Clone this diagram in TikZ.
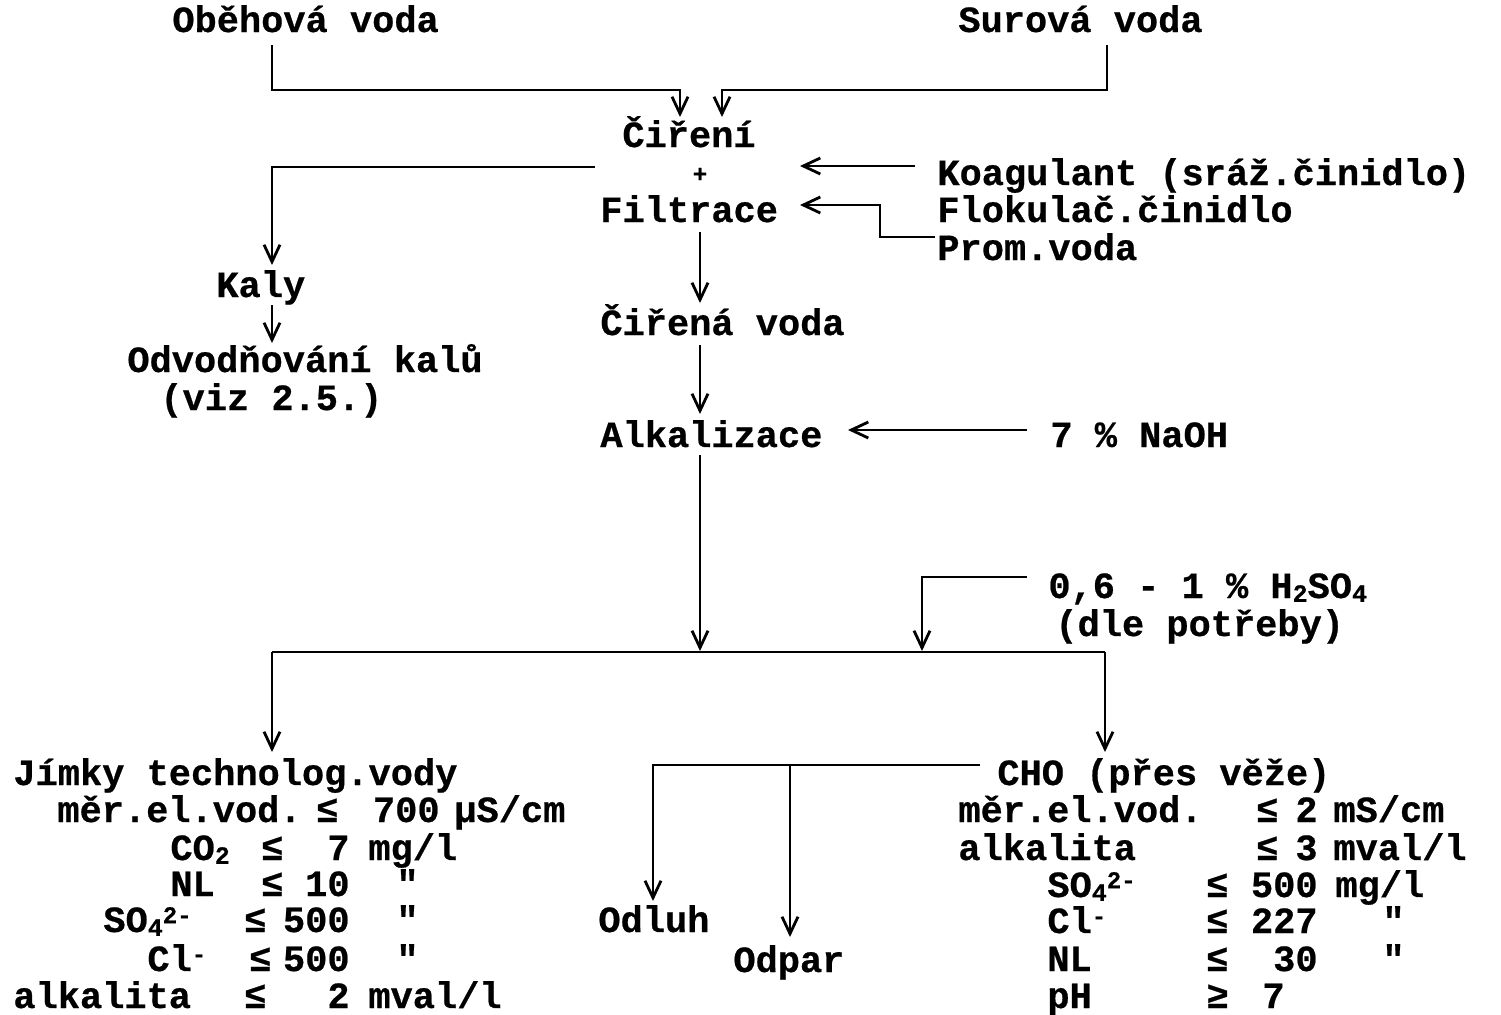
\documentclass[tikz,border=0pt]{standalone}
\usepackage{fontspec}
\setmonofont{Liberation Mono}[BoldFeatures={FakeBold=0.6}]
\usetikzlibrary{arrows.meta}
\newcommand{\dsub}[1]{\smash{\raisebox{-0.2ex}{\fontsize{12.5}{12.5}\selectfont #1}}}
\newcommand{\dsup}[1]{\smash{\raisebox{0.45ex}{\fontsize{12}{12}\selectfont #1}}}
\begin{document}
\begin{tikzpicture}[x=0.5pt,y=-0.5pt,
  txt/.style={inner sep=0pt, anchor=base west, font=\ttfamily\fontsize{18.5}{22}\selectfont\bfseries},
  txe/.style={txt, anchor=base east},
  plusmark/.style={inner sep=0pt, font=\ttfamily\fontsize{12}{12}\selectfont\bfseries},
  ln/.style={line width=1.4pt, line join=miter},
  arr/.style={ln, -{Straight Barb[length=8.5pt,width=8pt,line width=1.4pt]}}]
\useasboundingbox (0,0) rectangle (1501,1014);
% ---------- texts ----------
\node[txt] (obeh) at (172,32) {Oběhová voda};
\node[txt] (surova) at (958,32) {Surová voda};
\node[txt] (cireni) at (622,147) {Čiření};
\node[plusmark] (plus) at (700,175) {+};
\node[txt] (filtr) at (600,222) {Filtrace};
\node[txt] (koag) at (937,185) {Koagulant (sráž.činidlo)};
\node[txt] (flok) at (937,222) {Flokulač.činidlo};
\node[txt] (prom) at (937,260) {Prom.voda};
\node[txt] (kaly) at (216,297) {Kaly};
\node[txt] (odvod) at (127,372) {Odvodňování kalů};
\node[txt] (viz) at (160,410) {(viz 2.5.)};
\node[txt] (cirena) at (600,335) {Čiřená voda};
\node[txt] (alk) at (600,447) {Alkalizace};
\node[txt] (naoh) at (1050,447) {7 \% NaOH};
\node[txt] (h2so) at (1048,598) {0,6 - 1 \% H\dsub{2}SO\dsub{4}};
\node[txt] (dle) at (1055,636) {(dle potřeby)};
\node[txt] (odluh) at (598,932) {Odluh};
\node[txt] (odpar) at (733,972) {Odpar};
% left column
\node[txt] (jimky) at (13,785) {Jímky technolog.vody};
\node[txt] (l2a) at (57,822) {měr.el.vod.};
\node[txt] (l2b) at (316,822) {≤};
\node[txe] (l2c) at (440,822) {700};
\node[txt] (l2d) at (454,822) {µS/cm};
\node[txt] (l3a) at (170,860) {CO\dsub{2}};
\node[txt] (l3b) at (261,860) {≤};
\node[txe] (l3c) at (350,860) {7};
\node[txt] (l3d) at (368,860) {mg/l};
\node[txt] (l4a) at (170,896) {NL};
\node[txt] (l4b) at (261,896) {≤};
\node[txe] (l4c) at (350,896) {10};
\node[txt] (l4d) at (396,896) {"};
\node[txt] (l5a) at (103,932) {SO\dsub{4}\dsup{2-}};
\node[txt] (l5b) at (244,932) {≤};
\node[txe] (l5c) at (350,932) {500};
\node[txt] (l5d) at (396,932) {"};
\node[txt] (l6a) at (147,971) {Cl\dsup{-}};
\node[txt] (l6b) at (249,971) {≤};
\node[txe] (l6c) at (350,971) {500};
\node[txt] (l6d) at (396,971) {"};
\node[txt] (l7a) at (13,1008) {alkalita};
\node[txt] (l7b) at (244,1008) {≤};
\node[txe] (l7c) at (350,1008) {2};
\node[txt] (l7d) at (368,1008) {mval/l};
% right column
\node[txt] (cho) at (997,785) {CHO (přes věže)};
\node[txt] (r2a) at (958,822) {měr.el.vod.};
\node[txt] (r2b) at (1256,822) {≤};
\node[txe] (r2c) at (1318,822) {2};
\node[txt] (r2d) at (1333,822) {mS/cm};
\node[txt] (r3a) at (958,860) {alkalita};
\node[txt] (r3b) at (1256,860) {≤};
\node[txe] (r3c) at (1318,860) {3};
\node[txt] (r3d) at (1333,860) {mval/l};
\node[txt] (r4a) at (1047,897) {SO\dsub{4}\dsup{2-}};
\node[txt] (r4b) at (1206,897) {≤};
\node[txe] (r4c) at (1318,897) {500};
\node[txt] (r4d) at (1335,897) {mg/l};
\node[txt] (r5a) at (1047,933) {Cl\dsup{-}};
\node[txt] (r5b) at (1206,933) {≤};
\node[txe] (r5c) at (1318,933) {227};
\node[txt] (r5d) at (1382,933) {"};
\node[txt] (r6a) at (1047,971) {NL};
\node[txt] (r6b) at (1206,971) {≤};
\node[txe] (r6c) at (1318,971) {30};
\node[txt] (r6d) at (1382,971) {"};
\node[txt] (r7a) at (1047,1008) {pH};
\node[txt] (r7b) at (1206,1008) {≥};
\node[txt] (r7c) at (1262,1008) {7};
% ---------- connector points ----------
\coordinate (oA) at (272,45);   \coordinate (oB) at (272,90);   \coordinate (oC) at (680,117);
\coordinate (sA) at (1107,45);  \coordinate (sB) at (1107,90);  \coordinate (sC) at (722,117);
\coordinate (kA) at (595,167);  \coordinate (kB) at (272,265);
\coordinate (kC) at (272,305);  \coordinate (kD) at (272,343);
\coordinate (gA) at (915,166);  \coordinate (gB) at (800,166);
\coordinate (pA) at (935,237);  \coordinate (pB) at (880,237);  \coordinate (pC) at (880,205); \coordinate (pD) at (800,205);
\coordinate (fA) at (700,232);  \coordinate (fB) at (700,303);
\coordinate (cA) at (700,345);  \coordinate (cB) at (700,414);
\coordinate (nA) at (1027,430); \coordinate (nB) at (848,430);
\coordinate (aA) at (700,455);  \coordinate (aB) at (700,651);
\coordinate (hA) at (1027,577); \coordinate (hB) at (922,577);  \coordinate (hC) at (922,651);
\coordinate (jL) at (272,652);  \coordinate (jR) at (1105,652);
\coordinate (jLe) at (272,752); \coordinate (jRe) at (1105,752);
\coordinate (bA) at (980,765);  \coordinate (bB) at (653,765);  \coordinate (bC) at (653,901);
\coordinate (bD) at (790,765);  \coordinate (bE) at (790,937);
% ---------- connectors ----------
\draw[arr] (oA) -- (oB) -| (oC);
\draw[arr] (sA) -- (sB) -| (sC);
\draw[arr] (kA) -| (kB);
\draw[arr] (kC) -- (kD);
\draw[arr] (gA) -- (gB);
\draw[arr] (pA) -- (pB) -- (pC) -- (pD);
\draw[arr] (fA) -- (fB);
\draw[arr] (cA) -- (cB);
\draw[arr] (nA) -- (nB);
\draw[arr] (aA) -- (aB);
\draw[arr] (hA) -| (hC);
\draw[ln] (jL) -- (jR);
\draw[arr] (jL) -- (jLe);
\draw[arr] (jR) -- (jRe);
\draw[arr] (bA) -| (bC);
\draw[arr] (bD) -- (bE);
\end{tikzpicture}
\end{document}
